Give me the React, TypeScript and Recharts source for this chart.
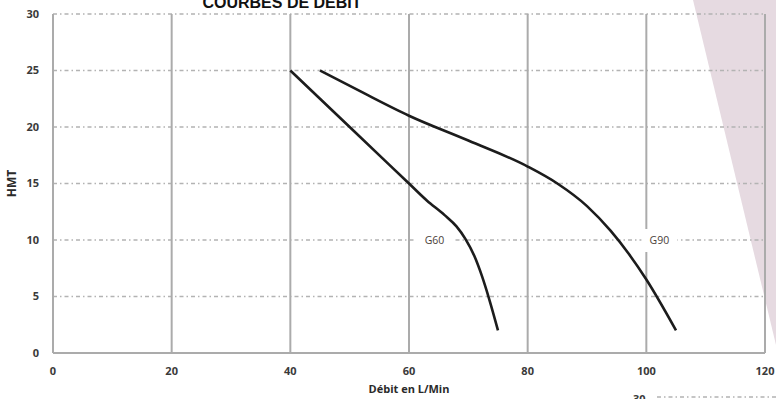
import React from 'react';
import { LineChart, Line, XAxis, YAxis, CartesianGrid, ReferenceDot } from 'recharts';

const xTicks = [0, 20, 40, 60, 80, 100, 120];
const yTicks = [0, 5, 10, 15, 20, 25, 30];

const g60Flow = [40, 50, 60, 63, 66, 68, 69.5, 71, 72.3, 73.5, 75];
const g60Head = [25, 20, 15, 13.5, 12.2, 11.2, 10.1, 8.6, 6.8, 4.8, 2];

const g90Flow = [45, 52, 60, 70, 80, 85, 90, 94, 97, 100, 105];
const g90Head = [25, 23.1, 21, 18.8, 16.5, 15, 13, 10.8, 8.8, 6.5, 2];

const curveLabelNames = ['G60', 'G90'];
const curveLabelFlow = [64.3, 102.2];
const curveLabelHead = [10, 10];

const title = 'COURBES DE DEBIT';
const xTitle = 'Débit en L/Min';
const yTitle = 'HMT';

const g60Data = g60Flow.map((f, i) => ({ flow: f, head: g60Head[i] }));
const g90Data = g90Flow.map((f, i) => ({ flow: f, head: g90Head[i] }));

const W = 776;
const H = 399;
const tickStyle = { fontFamily: '"Open Sans", sans-serif', fontSize: 11, fontWeight: 700, fill: '#3a3a3a' };

const makeLabelShape = (text: string, w: number) => (props: any) => {
  const { cx, cy } = props;
  return (
    <g>
      <rect x={cx - w / 2} y={cy - 11} width={w} height={23} fill="#ffffff" />
      <text x={cx} y={cy} dy="0.35em" textAnchor="middle" fontFamily='"Open Sans", sans-serif' fontSize={10.5} fill="#4a4038">
        {text}
      </text>
    </g>
  );
};

export default function App() {
  return (
    <div style={{ position: 'absolute', left: 0, top: 0, width: W, height: H, background: '#ffffff', overflow: 'hidden' }}>
      <svg width={W} height={H} style={{ position: 'absolute', left: 0, top: 0 }}>
        <polygon points="693,0 776,0 776,345" fill="#e6dae1" />
      </svg>
      <div style={{ position: 'absolute', left: 0, top: 0 }}>
        <LineChart width={W} height={H} margin={{ top: 14, right: 11, bottom: 0, left: 0 }}>
          <CartesianGrid vertical={false} stroke="#b3b3b3" strokeWidth={1.3} strokeDasharray="4 3 1.5 3" />
          <CartesianGrid horizontal={false} stroke="#ababab" strokeWidth={2} />
          <XAxis
            dataKey="flow"
            type="number"
            domain={[0, 120]}
            ticks={xTicks}
            allowDataOverflow
            height={46}
            tickLine={false}
            tickSize={0}
            tickMargin={14}
            axisLine={{ stroke: '#ababab', strokeWidth: 2 }}
            tick={tickStyle}
            label={{ value: xTitle, position: 'insideBottom', offset: 6, style: { ...tickStyle, fill: '#2a2a2a' } }}
          />
          <YAxis
            type="number"
            domain={[0, 30]}
            ticks={yTicks}
            width={53}
            tickLine={false}
            tickSize={0}
            tickMargin={14}
            axisLine={{ stroke: '#ababab', strokeWidth: 2 }}
            tick={tickStyle}
            label={{ value: yTitle, angle: -90, position: 'insideLeft', offset: 12, style: { ...tickStyle, fontSize: 12, fill: '#2a2a2a', textAnchor: 'middle' } }}
          />
          {curveLabelNames.map((n, i) => (
            <ReferenceDot
              key={n}
              x={curveLabelFlow[i]}
              y={curveLabelHead[i]}
              r={0}
              shape={makeLabelShape(n, i === 0 ? 38 : 36)}
            />
          ))}
          <Line data={g60Data} dataKey="head" type="monotone" stroke="#1c1c1c" strokeWidth={2.6} dot={false} isAnimationActive={false} />
          <Line data={g90Data} dataKey="head" type="monotone" stroke="#1c1c1c" strokeWidth={2.6} dot={false} isAnimationActive={false} />
        </LineChart>
      </div>
      <svg width={W} height={H} style={{ position: 'absolute', left: 0, top: 0, pointerEvents: 'none' }}>
        <text x={282} y={8} textAnchor="middle" fontFamily='"Liberation Sans", Arial, sans-serif' fontWeight={700} fontSize={16} fill="#111">
          {title}
        </text>
        <text x={633} y={403} fontFamily='"Open Sans", sans-serif' fontWeight={700} fontSize={11} fill="#3a3a3a">30</text>
        <line x1={657} y1={397} x2={776} y2={397} stroke="#b3b3b3" strokeWidth={1.3} strokeDasharray="4 3 1.5 3" />
      </svg>
    </div>
  );
}
